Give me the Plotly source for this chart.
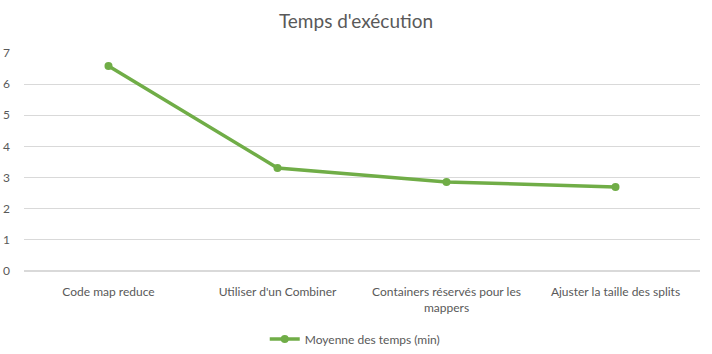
import plotly.graph_objects as go

categories = ["Code map reduce", "Utiliser d'un Combiner",
              "Containers réservés pour les<br>mappers", "Ajuster la taille des splits"]
values = [6.58, 3.31, 2.86, 2.70]
series_name = "Moyenne des temps (min)"
y_ticks = [0, 1, 2, 3, 4, 5, 6, 7]

GREEN = "#70AD47"
TXT = "#595959"
FONT = "Lato, Carlito, 'Open Sans', sans-serif"

fig = go.Figure()
fig.add_trace(go.Scatter(
    x=categories, y=values, name=series_name, mode="lines+markers",
    line=dict(color=GREEN, width=3.5), marker=dict(color=GREEN, size=8),
))

fig.update_layout(
    width=712, height=354,
    margin=dict(l=24, r=12, t=53, b=83),
    paper_bgcolor="white", plot_bgcolor="white",
    font=dict(family=FONT, color=TXT, size=12),
    title=dict(text="Temps d'exécution", x=0.5, xanchor="center", y=0.94, yanchor="middle",
               font=dict(size=19, color=TXT, family=FONT)),
    showlegend=True,
    legend=dict(orientation="h", x=0.49, xanchor="center", y=15 / 354, yref="container",
                yanchor="middle", font=dict(size=12, color=TXT), itemwidth=30),
    xaxis=dict(range=[-0.5, 3.5], showgrid=False, showline=False, zeroline=False, ticks="",
               tickfont=dict(size=12, color=TXT), ticklabelstandoff=12, automargin=False),
    yaxis=dict(range=[0, 7], tickvals=y_ticks, showgrid=True, gridcolor="#D9D9D9",
               gridwidth=1, zeroline=True, zerolinecolor="#D9D9D9", showline=False,
               ticks="", tickfont=dict(size=12, color=TXT), ticklabelstandoff=13,
               automargin=False),
)

fig.write_html("out.html")
